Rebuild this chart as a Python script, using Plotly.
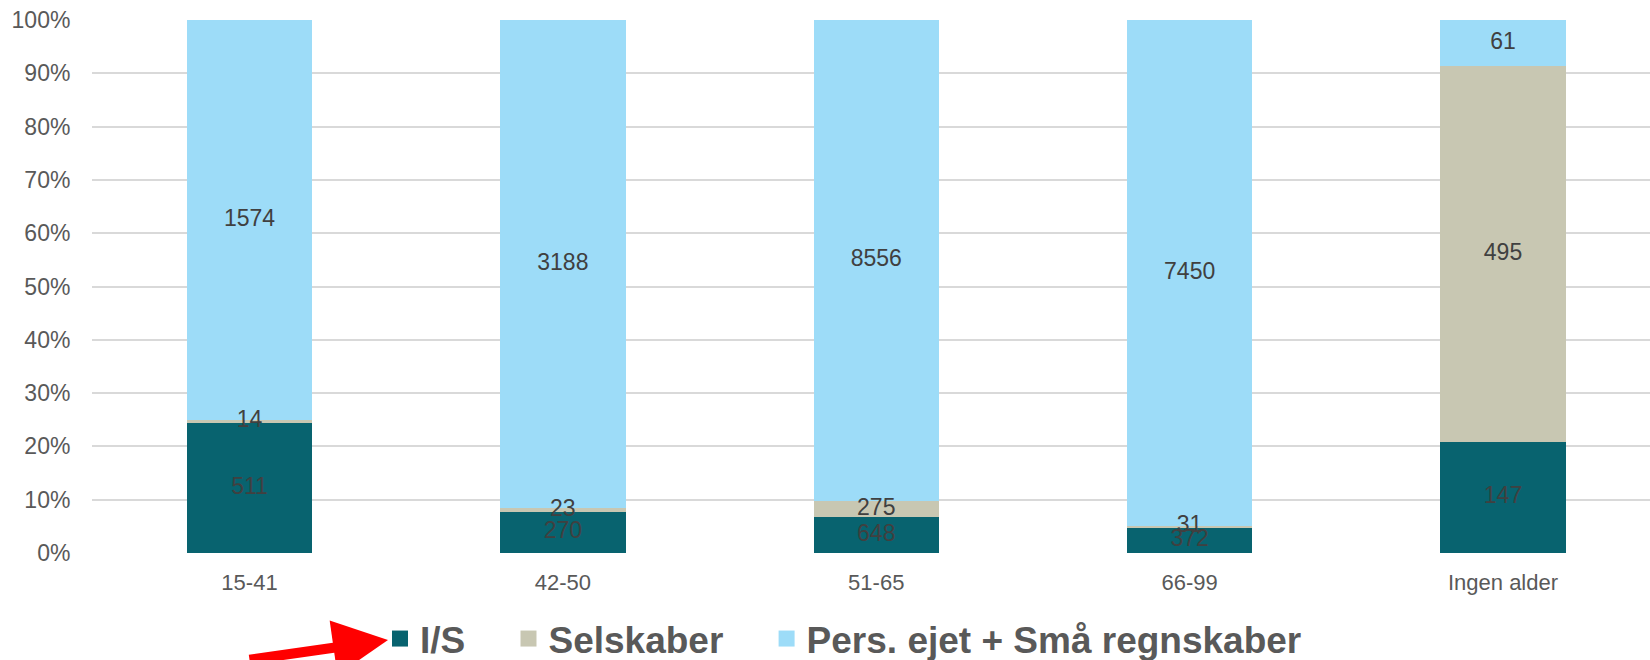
import numpy as np
import plotly.graph_objects as go

categories = ["15-41", "42-50", "51-65", "66-99", "Ingen alder"]
series_names = ["I/S", "Selskaber", "Pers. ejet + Små regnskaber"]
is_values = [511, 270, 648, 372, 147]
selskaber_values = [14, 23, 275, 31, 495]
pers_values = [1574, 3188, 8556, 7450, 61]
y_ticks = [0, 10, 20, 30, 40, 50, 60, 70, 80, 90, 100]
y_tick_labels = ["0%", "10%", "20%", "30%", "40%", "50%", "60%", "70%", "80%", "90%", "100%"]

colors = ["#08636f", "#c8c7b2", "#9ddcf8"]
FONT = "Liberation Sans, Arial, sans-serif"

data = np.array([is_values, selskaber_values, pers_values], dtype=float)
totals = data.sum(axis=0)
pct = data / totals * 100
cum = np.cumsum(pct, axis=0)
mids = cum - pct / 2

fig = go.Figure()
for i, name in enumerate(series_names):
    fig.add_trace(go.Bar(
        x=categories, y=pct[i], name=name, legendgroup=name,
        marker=dict(color=colors[i], line=dict(width=0)),
        width=0.4, hoverinfo="skip", showlegend=False,
    ))
# legend entries (square swatches) linked to the bar series
for i, name in enumerate(series_names):
    pad = "\u00a0\u00a0\u00a0\u2009" if i < len(series_names) - 1 else ""
    fig.add_trace(go.Scatter(
        x=[None], y=[None], mode="markers", name=name + pad, legendgroup=name,
        marker=dict(symbol="square", size=17, color=colors[i], line=dict(width=0)),
        showlegend=True, hoverinfo="skip",
    ))
for i in range(len(series_names)):
    fig.add_trace(go.Scatter(
        x=categories, y=mids[i], mode="text",
        text=[str(int(v)) for v in data[i]],
        textposition="middle center",
        textfont=dict(family=FONT, size=23, color="#404040"),
        showlegend=False, hoverinfo="skip",
    ))

W, H = 1650, 660
L, T, B = 92, 20, 107
plot_w = W - L
plot_h = H - T - B

def px_x(px):
    return (px - L) / plot_w

def px_y(py):
    return (H - B - py) / plot_h

fig.add_annotation(
    x=px_x(388), y=px_y(640), xref="paper", yref="paper",
    ax=-140, ay=36, axref="pixel", ayref="pixel",
    text="", showarrow=True, arrowhead=2, arrowsize=1.1,
    arrowwidth=10, arrowcolor="#ff0000",
)

fig.update_layout(
    width=W, height=H,
    margin=dict(l=L, r=0, t=T, b=B, pad=0, autoexpand=False),
    barmode="stack",
    paper_bgcolor="white", plot_bgcolor="white",
    font=dict(family=FONT, color="#595959", size=23),
    showlegend=True,
    legend=dict(
        orientation="h", xref="container", yref="container",
        x=380 / W, xanchor="left", y=(H - 639) / H, yanchor="middle",
        font=dict(family=FONT, size=37, color="#595959", weight="bold"),
        traceorder="normal", itemclick=False, itemdoubleclick=False,
        itemsizing="trace", bgcolor="rgba(0,0,0,0)",
    ),
    xaxis=dict(
        type="category", range=[-0.5026, 4.469], showgrid=False, zeroline=False,
        showline=False, ticks="outside", ticklen=10, tickcolor="rgba(0,0,0,0)",
        tickfont=dict(family=FONT, size=22, color="#595959"),
    ),
    yaxis=dict(
        range=[0, 100], tickvals=y_ticks, ticktext=y_tick_labels,
        showgrid=True, gridcolor="#d9d9d9", gridwidth=1.5, zeroline=False,
        showline=False, ticks="outside", ticklen=16, tickcolor="rgba(0,0,0,0)",
        tickfont=dict(family=FONT, size=23, color="#595959"),
    ),
)

fig.write_html("out.html")
